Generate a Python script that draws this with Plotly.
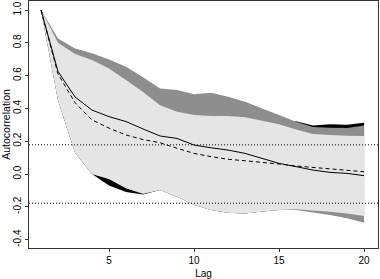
import plotly.graph_objects as go

lags = list(range(1, 21))
acf_solid = [1.0, 0.625, 0.47, 0.39, 0.35, 0.32, 0.275, 0.232, 0.217, 0.177,
             0.16, 0.146, 0.126, 0.095, 0.065, 0.045, 0.024, 0.01, 0.004, -0.01]
acf_dashed = [1.0, 0.61, 0.435, 0.33, 0.28, 0.238, 0.21, 0.191, 0.157, 0.126,
              0.106, 0.09, 0.081, 0.072, 0.061, 0.049, 0.041, 0.03, 0.024, 0.014]
light_upper = [1.0, 0.80, 0.732, 0.695, 0.644, 0.573, 0.50, 0.42, 0.38, 0.36,
               0.354, 0.354, 0.346, 0.325, 0.303, 0.272, 0.244, 0.238, 0.234, 0.232]
light_lower = [1.0, 0.45, 0.13, 0.0, -0.03, -0.087, -0.12, -0.098, -0.138, -0.187,
               -0.22, -0.236, -0.24, -0.228, -0.22, -0.215, -0.222, -0.23, -0.24, -0.256]
dark_upper = [1.0, 0.827, 0.766, 0.736, 0.699, 0.654, 0.59, 0.522, 0.512, 0.487,
              0.495, 0.471, 0.441, 0.40, 0.36, 0.319, 0.286, 0.282, 0.281, 0.296]
dark_lower = light_lower[:15] + [-0.22, -0.234, -0.25, -0.27, -0.297]
black_upper = light_upper[:15] + [0.322, 0.296, 0.303, 0.301, 0.313]
black_lower = light_lower[:4] + [-0.07, -0.11, -0.125] + light_lower[7:]
conf_bound = 0.178

y_ticks = [-0.4, -0.2, 0.0, 0.2, 0.4, 0.6, 0.8, 1.0]
y_tick_text = ["-0.4", "-0.2", "0.0", "0.2", "0.4", "0.6", "0.8", "1.0"]
x_ticks = [5, 10, 15, 20]

fig = go.Figure()


def band(upper, lower, color):
    fig.add_trace(go.Scatter(
        x=lags + lags[::-1], y=upper + lower[::-1],
        fill="toself", fillcolor=color, mode="none",
        hoverinfo="skip", showlegend=False))


band(black_upper, black_lower, "#000000")
band(dark_upper, dark_lower, "#8e8e8e")
band(light_upper, light_lower, "#e5e5e5")

fig.add_trace(go.Scatter(x=lags, y=acf_solid, mode="lines",
                         line=dict(color="black", width=1), showlegend=False))
fig.add_trace(go.Scatter(x=lags, y=acf_dashed, mode="lines",
                         line=dict(color="black", width=1, dash="4px,3px"),
                         showlegend=False))

for yv in (conf_bound, -conf_bound):
    fig.add_shape(type="line", xref="paper", yref="y", x0=0, x1=1, y0=yv, y1=yv,
                  line=dict(color="black", width=1, dash="1px,2px"))

fig.update_layout(
    width=380, height=279,
    margin=dict(l=29, r=2, t=1, b=31, autoexpand=False),
    paper_bgcolor="white", plot_bgcolor="white",
    font=dict(family="Liberation Sans, Arial, sans-serif", size=10, color="black"),
    showlegend=False,
)
fig.update_xaxes(
    range=[0.294, 20.82], tickvals=x_ticks, ticks="outside", ticklen=3,
    tickcolor="#333", showgrid=False, zeroline=False,
    showline=True, mirror=True, linecolor="#333", linewidth=1,
    title=dict(text="Lag", font=dict(size=10), standoff=4),
)
fig.update_yaxes(
    range=[-0.451, 1.055], tickvals=y_ticks, ticktext=y_tick_text,
    tickangle=-90, ticks="outside", ticklen=3, tickcolor="#333",
    showgrid=False, zeroline=False,
    showline=True, mirror=True, linecolor="#333", linewidth=1,
    title=dict(text="Autocorrelation", font=dict(size=10.5), standoff=3),
)

fig.write_html(
    "out.html",
    config={"displayModeBar": False},
    post_script="document.body.style.margin='0';document.body.style.padding='0';"
                "document.body.style.overflow='hidden';",
)
